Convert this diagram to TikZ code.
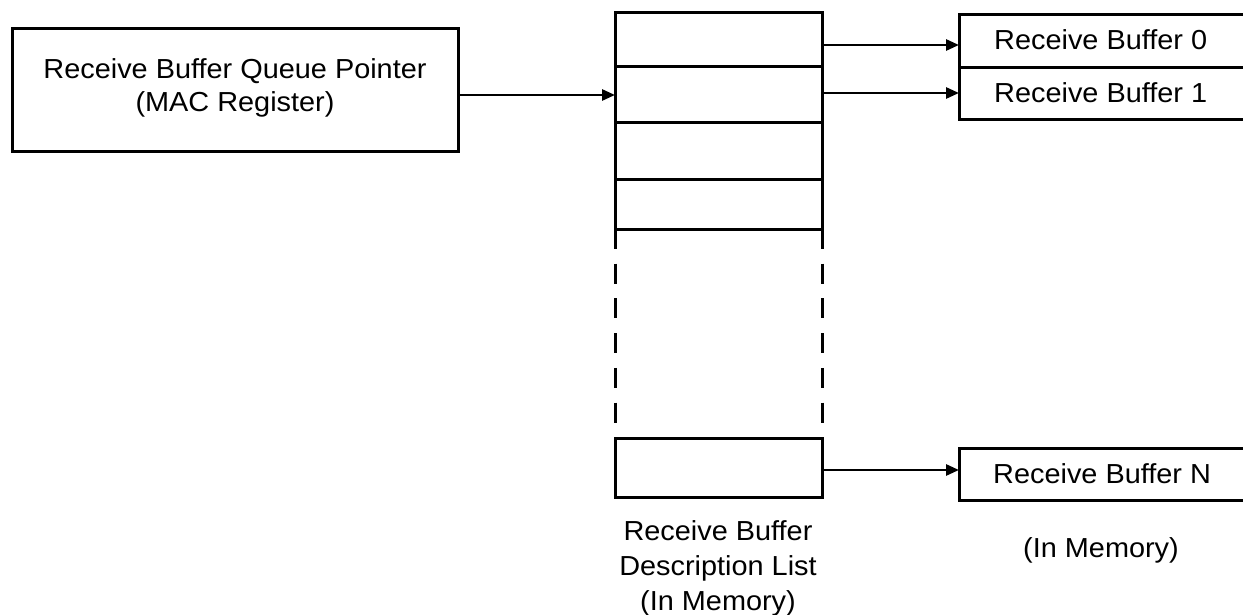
\documentclass[tikz,border=0pt]{standalone}
\usepackage{fontspec}
\setmainfont[FakeStretch=1.05]{Liberation Sans}
\usetikzlibrary{arrows.meta}
\begin{document}
\begin{tikzpicture}[x=1pt,y=-1pt,
  every node/.style={font=\fontsize{27.5}{33}\selectfont},
  cell/.style={draw,line width=3pt,inner sep=0pt,outer sep=0pt},
  txt/.style={inner sep=0pt,anchor=base},
  arr/.style={line width=2.8pt,-{Triangle[length=13pt,width=11pt]}},
  dashline/.style={line width=3pt,dash pattern=on 20pt off 14.7pt}]
\useasboundingbox (0,0) rectangle (1243,615);
\clip (0,0) rectangle (1243,615);
% queue pointer register
\node[cell,minimum width=446pt,minimum height=123pt] (qp) at (235,90.5) {};
\node[txt] (qp1) at (235,79) {Receive Buffer Queue Pointer};
\node[txt] (qp2) at (235,112) {(MAC Register)};
% descriptor list
\node[cell,minimum width=207pt,minimum height=54pt] (c1) at (718.5,40) {};
\node[cell,minimum width=207pt,minimum height=56pt] (c2) at (718.5,95) {};
\node[cell,minimum width=207pt,minimum height=57pt] (c3) at (718.5,151.5) {};
\node[cell,minimum width=207pt,minimum height=49pt] (c4) at (718.5,204.5) {};
\node[cell,minimum width=207pt,minimum height=59pt] (cN) at (718.5,467.5) {};
\draw[dashline] (c4.south west) -- (cN.north west);
\draw[dashline] (c4.south east) -- (cN.north east);
% buffers
\node[cell,minimum width=341pt,minimum height=53pt] (b0) at (1129.5,41.5) {};
\node[cell,minimum width=341pt,minimum height=52pt] (b1) at (1129.5,94) {};
\node[cell,minimum width=341pt,minimum height=52pt] (bN) at (1129.5,474) {};
\node[txt,anchor=base west] (t0) at (994,50) {Receive Buffer 0};
\node[txt,anchor=base west] (t1) at (994,102.5) {Receive Buffer 1};
\node[txt,anchor=base west] (tN) at (993,483) {Receive Buffer N};
% connectors
\draw[arr] (qp.east |- c2.west) -- (c2.west);
\draw[arr] ([yshift=-5pt]c1.east) coordinate (a0) -- (b0.west |- a0);
\draw[arr] ([yshift=2pt]c2.east) coordinate (a1) -- (b1.west |- a1);
\draw[arr] ([yshift=-2.5pt]cN.east) coordinate (aN) -- (bN.west |- aN);
% labels
\node[txt] (l1) at (718,540) {Receive Buffer};
\node[txt] (l2) at (718,575.5) {Description List};
\node[txt] (l3) at (718,610) {(In Memory)};
\node[txt] (mem) at (1101,557) {(In Memory)};
\end{tikzpicture}
\end{document}
